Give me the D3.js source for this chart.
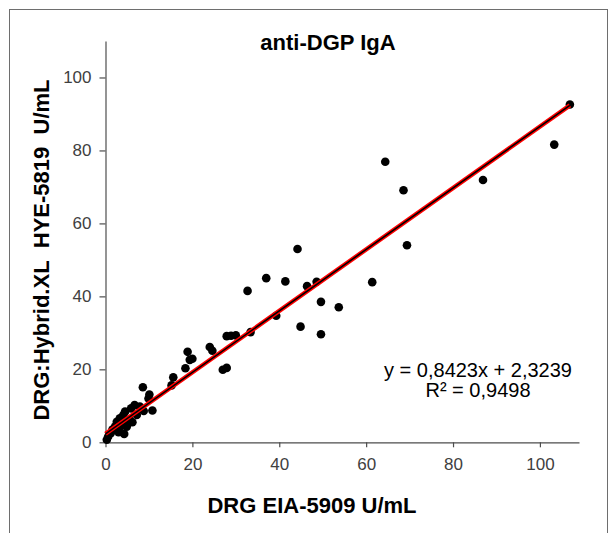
<!DOCTYPE html>
<html>
<head>
<meta charset="utf-8">
<script src="https://cdn.jsdelivr.net/npm/d3@7"></script>
<style>
  html, body { margin: 0; padding: 0; background: #fff; }
  svg { display: block; font-family: "Liberation Sans", Arial, sans-serif; }
</style>
</head>
<body>
<svg id="chart" width="611" height="533"></svg>
<script>
// DRG EIA-5909 (x) vs DRG:Hybrid.XL HYE-5819 (y), U/mL
var eiaValues = [0.3, 0.6, 1.2, 1.6, 2.2, 2.6, 3.0, 3.3, 3.6, 4.1, 4.3, 4.5, 4.9, 5.2, 5.6, 5.9, 6.2, 6.7, 7.2, 7.9,
  8.6, 8.8, 9.9, 10.1, 10.8, 15.2, 15.6, 18.4, 18.9, 19.4, 20.0, 24.0, 24.6, 27.0, 27.9, 27.9, 28.9, 30.0,
  32.7, 33.4, 37.0, 39.3, 41.4, 44.2, 44.9, 46.4, 48.6, 49.6, 49.6, 53.7, 61.4, 64.4, 68.6, 69.4, 86.9, 103.3, 106.9];
var hybridValues = [0.7, 1.5, 2.5, 3.5, 4.3, 5.6, 2.8, 6.6, 4.5, 7.5, 2.3, 8.4, 4.3, 5.2, 6.1, 9.3, 5.5, 10.2, 7.5, 9.8,
  15.1, 8.6, 12.0, 13.1, 8.7, 15.6, 17.8, 20.3, 24.8, 22.6, 22.9, 26.1, 25.1, 19.9, 20.4, 29.1, 29.2, 29.3,
  41.5, 30.2, 45.0, 34.7, 44.1, 53.0, 31.7, 42.8, 44.0, 38.5, 29.6, 37.0, 43.9, 76.9, 69.1, 54.0, 71.9, 81.6, 92.6];

var xTicks = [0, 20, 40, 60, 80, 100];
var yTicks = [0, 20, 40, 60, 80, 100];
var trendSlope = 0.8423;
var trendIntercept = 2.3239;
var trendLabel = 'y = 0,8423x + 2,3239';
var r2Label = 'R\u00b2 = 0,9498';
var chartTitle = 'anti-DGP IgA';
var xTitle = 'DRG EIA-5909 U/mL';
var yTitle = 'DRG:Hybrid.XL\u00a0 HYE-5819\u00a0 U/mL';

(function() {
  var svg = d3.select('#chart');

  // outer frame
  svg.append('rect')
    .attr('x', 9.5).attr('y', 9.5)
    .attr('width', 598).attr('height', 540)
    .attr('fill', 'none').attr('stroke', '#6e6e6e').attr('stroke-width', 1);

  var plotLeft = 105.5, plotRight = 579, plotTop = 41, plotBottom = 442.3;
  var x = d3.scaleLinear().domain([0, 109]).range([plotLeft, plotRight]);
  var y = d3.scaleLinear().domain([0, 110]).range([plotBottom, plotTop]);

  var axisColor = '#4d4d4d';

  var xAxis = svg.append('g')
    .attr('transform', 'translate(0,' + plotBottom + ')')
    .call(d3.axisBottom(x).tickValues(xTicks).tickSize(5).tickPadding(11).tickSizeOuter(0));
  var yAxis = svg.append('g')
    .attr('transform', 'translate(' + plotLeft + ',0)')
    .call(d3.axisLeft(y).tickValues(yTicks).tickSize(6).tickPadding(8).tickSizeOuter(0));

  [xAxis, yAxis].forEach(function(g) {
    g.select('.domain').attr('stroke', axisColor).attr('stroke-width', 1.2);
    g.selectAll('.tick line').attr('stroke', axisColor).attr('stroke-width', 1.2);
    g.selectAll('.tick text')
      .attr('fill', '#404040')
      .style('font-size', '17px')
      .style('font-family', '"Liberation Sans", Arial, sans-serif');
  });

  // scatter points
  var pts = eiaValues.map(function(v, i) { return [v, hybridValues[i]]; });
  svg.append('g').selectAll('circle')
    .data(pts)
    .enter().append('circle')
    .attr('cx', function(d) { return x(d[0]); })
    .attr('cy', function(d) { return y(d[1]); })
    .attr('r', 4.3)
    .attr('fill', '#000');

  // linear trendline: dark core with red edge
  var xMax = d3.max(eiaValues);
  var trend = [[0, trendIntercept], [xMax, trendSlope * xMax + trendIntercept]];
  var lineGen = d3.line().x(function(d) { return x(d[0]); }).y(function(d) { return y(d[1]); });
  svg.append('path').datum(trend).attr('d', lineGen)
    .attr('fill', 'none').attr('stroke', '#ff0000').attr('stroke-width', 4.4);
  svg.append('path').datum(trend).attr('d', lineGen)
    .attr('fill', 'none').attr('stroke', '#000').attr('stroke-width', 1.6);

  // texts
  svg.append('text')
    .attr('x', 328).attr('y', 50)
    .attr('text-anchor', 'middle')
    .style('font-size', '22px').style('font-weight', 'bold')
    .attr('fill', '#000')
    .text(chartTitle);

  svg.append('text')
    .attr('x', 312).attr('y', 513)
    .attr('text-anchor', 'middle')
    .style('font-size', '22px').style('font-weight', 'bold')
    .attr('fill', '#000')
    .text(xTitle);

  svg.append('text')
    .attr('transform', 'translate(49,250) rotate(-90)')
    .attr('text-anchor', 'middle')
    .style('font-size', '22px').style('font-weight', 'bold')
    .attr('fill', '#000')
    .text(yTitle);

  var eq = svg.append('text')
    .attr('text-anchor', 'middle')
    .style('font-size', '20px')
    .attr('fill', '#000');
  eq.append('tspan').attr('x', 478).attr('y', 376.5).text(trendLabel);
  eq.append('tspan').attr('x', 478).attr('y', 396.5).text(r2Label);
})();
</script>
</body>
</html>
